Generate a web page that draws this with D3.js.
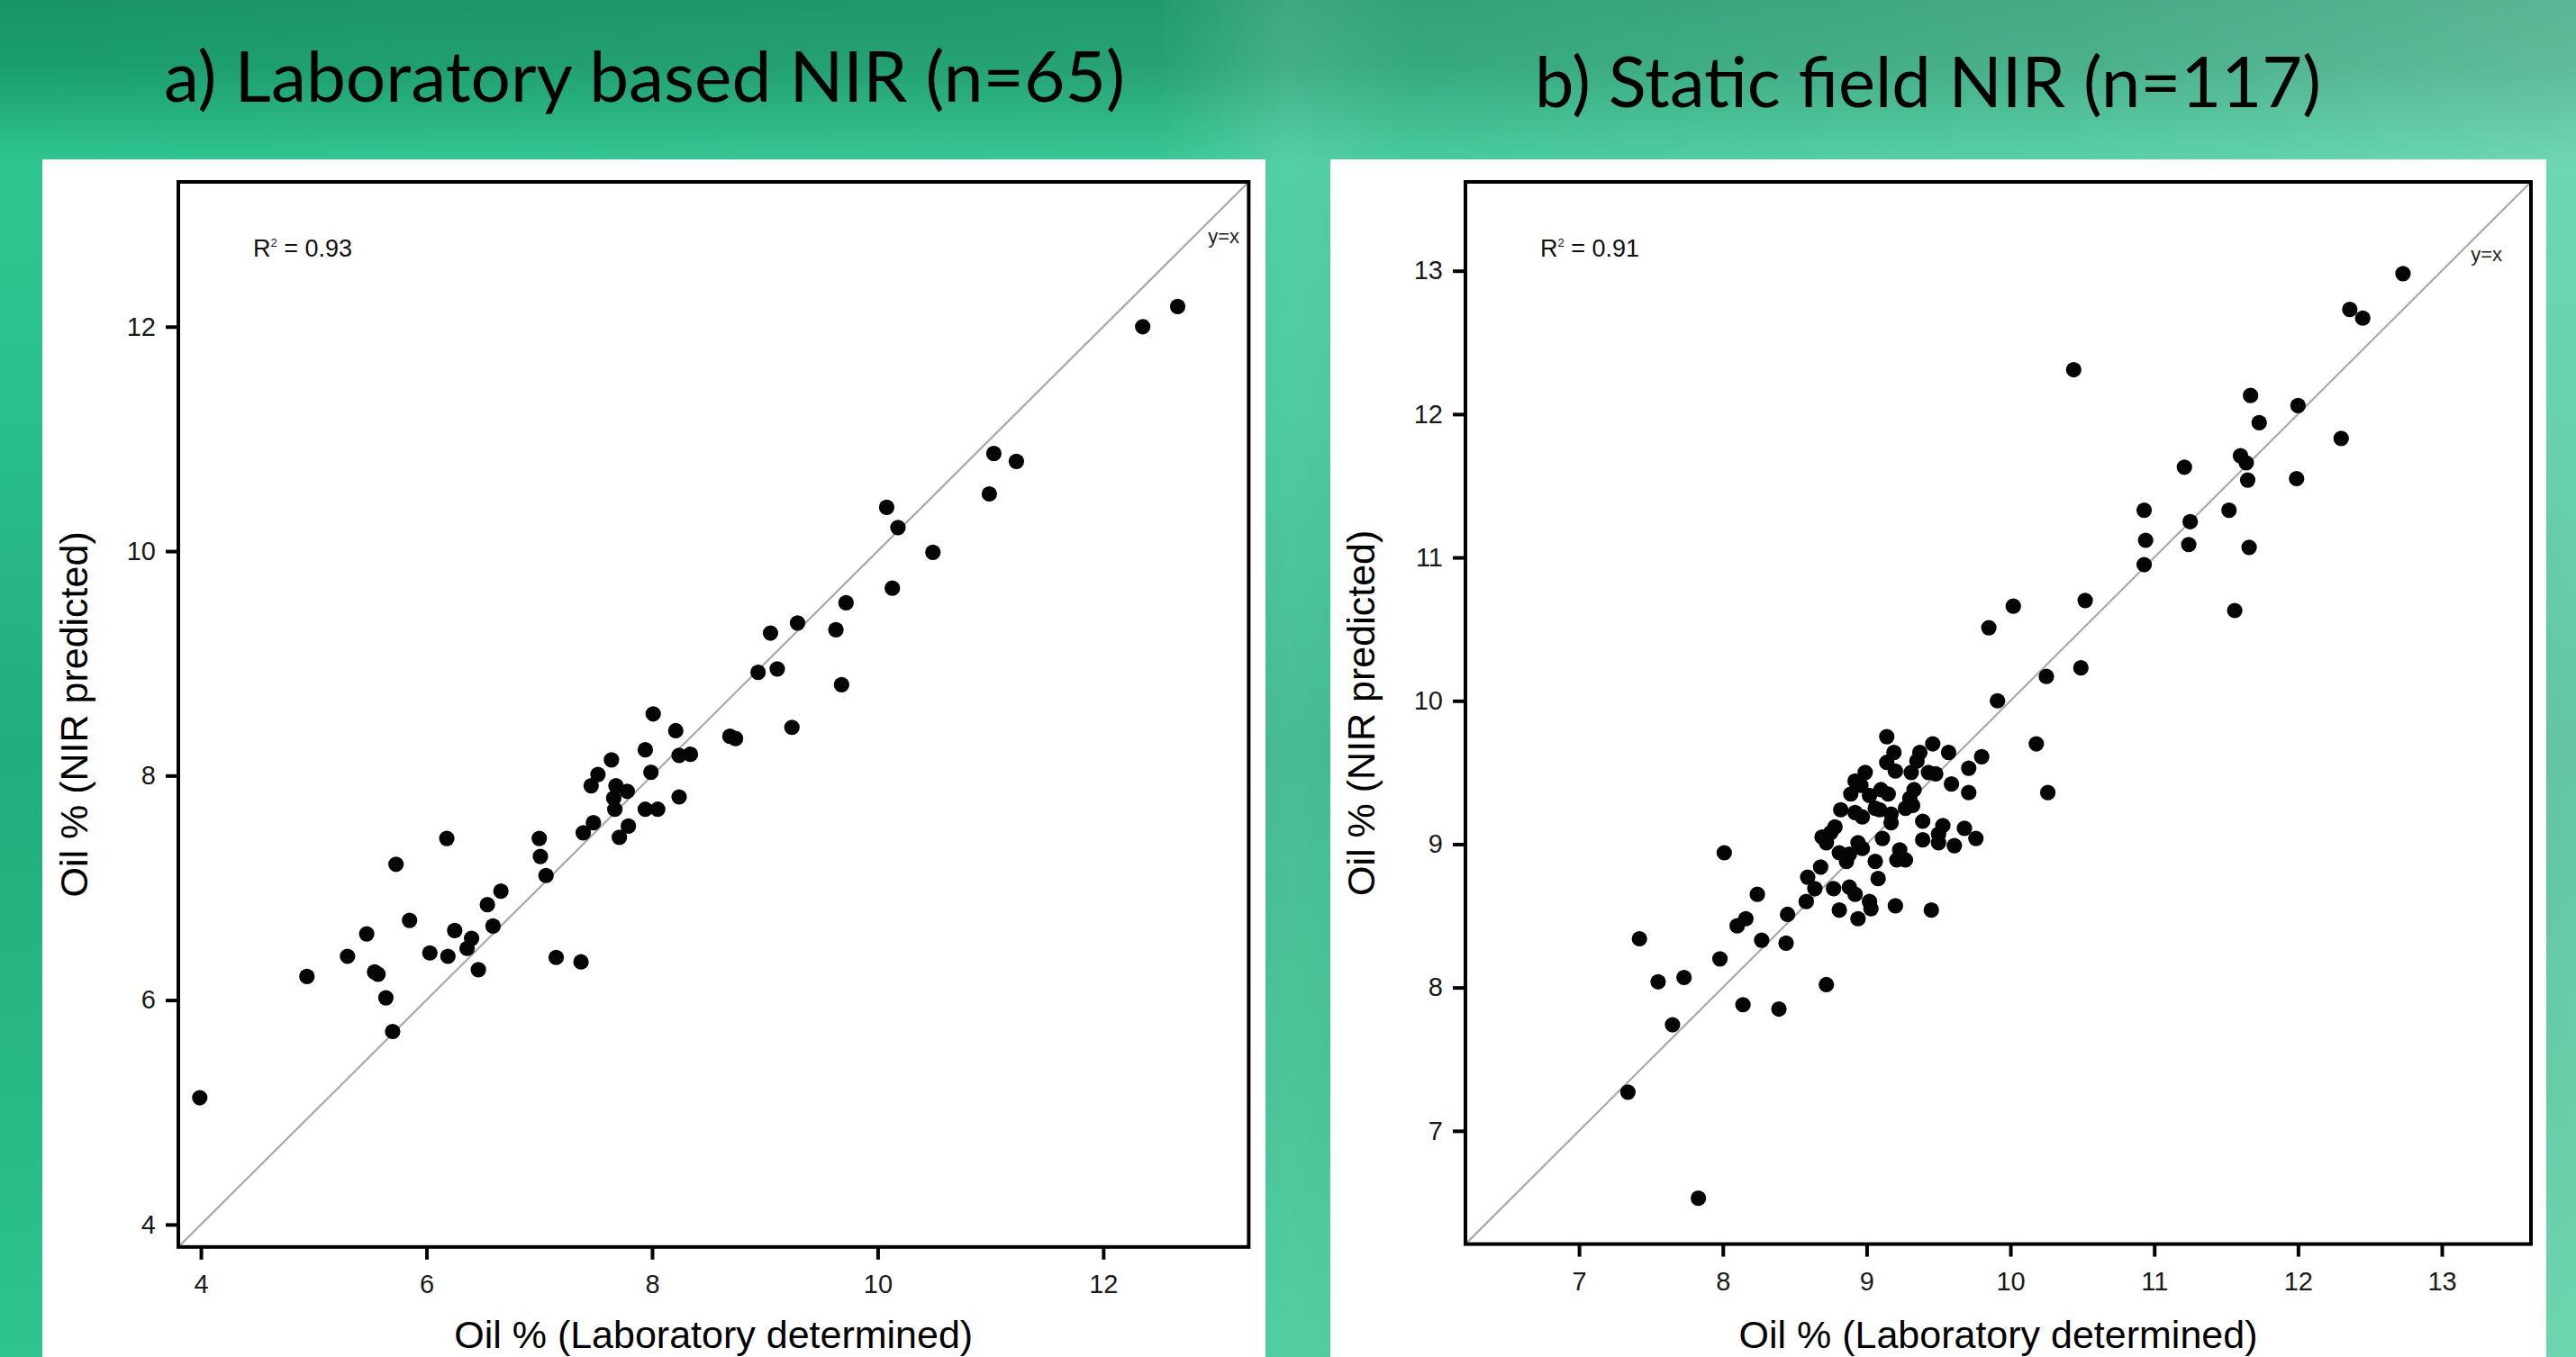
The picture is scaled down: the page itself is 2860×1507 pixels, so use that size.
<!DOCTYPE html>
<html>
<head>
<meta charset="utf-8">
<script src="https://cdn.jsdelivr.net/npm/d3@7"></script>
<style>
  html, body { margin: 0; padding: 0; background: #2bbf8a; }
  svg { display: block; }
</style>
</head>
<body>
<svg id="chart" width="2860" height="1507"></svg>
<script>
// ---------------- DATA ----------------
const titles = ["a) Laboratory based NIR (n=65)", "b) Static field NIR (n=117)"];
const r2Labels = ["0.93", "0.91"];
const xAxisTitle = "Oil % (Laboratory determined)";
const yAxisTitle = "Oil % (NIR predicted)";
const lineLabel = "y=x";

const ticksA = [4, 6, 8, 10, 12];
const ticksB = [7, 8, 9, 10, 11, 12, 13];
const domainA = [3.80, 13.29];
const domainB = [6.21, 13.62];

// Panel a: laboratory determined (x) and NIR predicted (y)
const labA = [12.66,12.35,11.03,11.23,10.99,10.08,10.18,10.49,10.13,9.72,9.29,9.05,9.63,8.94,9.11,9.68,8.01,8.21,9.24,8.69,8.74,7.94,8.24,8.34,7.99,
  7.94,8.05,8.24,
  7.64,7.46,7.52,7.68,7.78,7.66,7.67,7.79,7.71,7.48,7.39,7.00,7.01,7.06,6.66,6.54,6.59,6.40,6.36,6.46,6.25,6.19,6.03,6.18,5.73,5.85,5.47,5.30,5.54,5.57,5.64,5.70,4.94,3.99,7.15,7.37];
const nirA = [12.18,12.00,10.87,10.80,10.51,10.39,10.21,9.99,9.67,9.54,9.36,9.27,9.30,8.92,8.95,8.81,8.55,8.40,8.43,8.35,8.33,8.23,8.18,8.19,8.03,
  7.70,7.70,7.81,
  8.14,7.91,8.01,7.91,7.86,7.80,7.70,7.55,7.45,7.58,7.49,7.44,7.28,7.11,6.97,6.85,6.66,6.55,6.46,6.27,6.62,6.39,6.42,7.44,7.21,6.71,6.59,6.39,6.25,6.23,6.02,5.72,6.21,5.13,6.38,6.34];

// Panel b
const labB = [8.01,7.42,7.55,7.73,7.65,7.34,7.83,7.98,8.14,8.39,8.72,8.10,8.16,8.24,8.27,8.44,8.45,
  12.73,12.36,12.45,10.44,11.67,12.00,11.73,12.30,11.60,11.64,11.21,11.65,11.99,10.93,11.52,11.25,10.94,11.24,11.66,10.93,11.56,10.52,10.02,9.85,10.25,10.49,9.91,10.18,10.26,
  9.14,9.46,9.19,9.37,9.57,9.80,9.14,9.35,9.20,9.31,9.43,9.48,9.71,
  8.99,8.92,8.96,9.59,9.71,9.33,8.89,9.02,9.10,9.15,9.30,9.32,9.27,
  8.82,8.92,8.97,9.06,9.09,9.17,9.17,8.78,8.75,8.69,8.72,
  9.39,9.53,9.68,9.76,9.39,9.50,9.50,9.61,9.11,
  8.81,8.88,8.94,8.97,8.86,9.06,9.23,9.21,9.27,
  8.68,9.08,8.59,8.64,8.77,8.88,8.92,8.58,9.02,9.03,8.81,8.94,9.20,9.45];
const nirB = [8.94,8.34,8.04,8.07,7.74,7.27,6.53,8.20,7.88,7.85,8.02,8.43,8.48,8.65,8.33,8.31,8.51,
  12.98,12.73,12.67,12.31,12.13,12.06,11.94,11.83,11.71,11.66,11.63,11.54,11.55,11.33,11.33,11.25,11.12,11.09,11.07,10.95,10.63,10.70,10.66,10.51,10.17,10.23,10.00,9.70,9.36,
  9.75,9.70,9.64,9.64,9.64,9.61,9.57,9.58,9.51,9.50,9.50,9.49,9.53,
  9.50,9.44,9.41,9.42,9.36,9.38,9.35,9.34,9.38,9.35,9.32,9.27,9.25,
  9.24,9.22,9.19,9.25,9.24,9.21,9.15,9.12,9.08,9.05,9.01,
  9.16,9.13,9.11,9.04,9.03,9.07,9.01,8.99,9.04,
  8.94,8.93,9.01,8.97,8.88,8.88,8.96,8.89,8.89,
  8.84,8.76,8.77,8.69,8.69,8.70,8.65,8.60,8.60,8.55,8.54,8.48,8.57,8.54];

// ---------------- DRAWING ----------------
const svg = d3.select("#chart");
const W = 2860, H = 1507;
const defs = svg.append("defs");

// Background gradients
const gv = defs.append("linearGradient").attr("id", "bgV").attr("x1", 0).attr("y1", 0).attr("x2", 0).attr("y2", 1);
[[0, "#179566"], [0.05, "#1c9e6e"], [0.12, "#2fc690"], [0.3, "#2ac08b"], [0.55, "#22ad7c"], [0.8, "#27b983"], [1, "#2fc48d"]]
  .forEach(([o, c]) => gv.append("stop").attr("offset", o).attr("stop-color", c));
const gh = defs.append("linearGradient").attr("id", "bgH").attr("x1", 0).attr("y1", 0).attr("x2", 1).attr("y2", 0);
[[0, "#ffffff", 0.0], [0.45, "#ffffff", 0.05], [0.5, "#ffffff", 0.18], [0.55, "#ffffff", 0.12], [0.8, "#ffffff", 0.2], [1, "#ffffff", 0.3]]
  .forEach(([o, c, a]) => gh.append("stop").attr("offset", o).attr("stop-color", c).attr("stop-opacity", a));

svg.append("rect").attr("width", W).attr("height", H).attr("fill", "url(#bgV)");
svg.append("rect").attr("width", W).attr("height", H).attr("fill", "url(#bgH)");

const font = "'Liberation Sans', Arial, Helvetica, sans-serif";

const panels = [
  { title: titles[0], titleX: 182, titleW: 1067, titleY: 113, r2: r2Labels[0],
    box: [47, 177, 1405, 1507], plot: [198, 202, 1386.4, 1384.8],
    domain: domainA, ticks: ticksA, lab: labA, nir: nirA,
    lineLabelPos: [1376, 270] },
  { title: titles[1], titleX: 1704, titleW: 873, titleY: 119, r2: r2Labels[1],
    box: [1477, 177, 2827, 1507], plot: [1627, 202, 2810, 1381.6],
    domain: domainB, ticks: ticksB, lab: labB, nir: nirB,
    lineLabelPos: [2778, 290] }
];

panels.forEach(p => {
  // Title
  svg.append("text")
    .attr("x", p.titleX).attr("y", p.titleY)
    .attr("font-family", "Lato, 'Open Sans', sans-serif")
    .attr("font-size", 77)
    .attr("fill", "#000")
    .attr("textLength", p.titleW)
    .attr("lengthAdjust", "spacingAndGlyphs")
    .text(p.title);

  // White panel
  svg.append("rect")
    .attr("x", p.box[0]).attr("y", p.box[1])
    .attr("width", p.box[2] - p.box[0]).attr("height", p.box[3] - p.box[1])
    .attr("fill", "#ffffff");

  const [L, T, R, B] = p.plot;
  const x = d3.scaleLinear().domain(p.domain).range([L, R]);
  const y = d3.scaleLinear().domain(p.domain).range([B, T]);

  const g = svg.append("g");

  // y = x line
  g.append("line")
    .attr("x1", x(p.domain[0])).attr("y1", y(p.domain[0]))
    .attr("x2", x(p.domain[1])).attr("y2", y(p.domain[1]))
    .attr("stroke", "#a8a8a8").attr("stroke-width", 2.2);

  // Points
  const pts = p.lab.map((v, i) => ({ lab: v, nir: p.nir[i] }));
  g.selectAll("circle.pt").data(pts).enter().append("circle")
    .attr("class", "pt")
    .attr("cx", d => x(d.lab)).attr("cy", d => y(d.nir))
    .attr("r", 8.6)
    .attr("fill", "#050505");

  // Axes
  const xAxis = d3.axisBottom(x).tickValues(p.ticks).tickSize(14).tickSizeOuter(0).tickPadding(17).tickFormat(d3.format("d"));
  const yAxis = d3.axisLeft(y).tickValues(p.ticks).tickSize(14).tickSizeOuter(0).tickPadding(11).tickFormat(d3.format("d"));

  const gx = g.append("g").attr("transform", `translate(0,${B})`).call(xAxis);
  const gy = g.append("g").attr("transform", `translate(${L},0)`).call(yAxis);
  [gx, gy].forEach(ax => {
    ax.select(".domain").remove();
    ax.selectAll(".tick line").attr("stroke", "#000").attr("stroke-width", 4);
    ax.selectAll(".tick text").attr("font-family", font).attr("font-size", 29).attr("fill", "#1a1a1a");
  });

  // Frame
  g.append("rect")
    .attr("x", L).attr("y", T).attr("width", R - L).attr("height", B - T)
    .attr("fill", "none").attr("stroke", "#000").attr("stroke-width", 4);

  // R² label
  const r2 = g.append("text")
    .attr("x", L + 83).attr("y", 285)
    .attr("font-family", font).attr("font-size", 27).attr("fill", "#111");
  r2.append("tspan").text("R");
  r2.append("tspan").attr("font-size", 13).attr("dy", -11).text("2");
  r2.append("tspan").attr("dy", 11).text(" = " + p.r2);

  // y=x label
  g.append("text")
    .attr("x", p.lineLabelPos[0]).attr("y", p.lineLabelPos[1])
    .attr("text-anchor", "end")
    .attr("font-family", font).attr("font-size", 22).attr("fill", "#222")
    .text(lineLabel);

  // Axis titles
  g.append("text")
    .attr("x", (L + R) / 2).attr("y", 1497)
    .attr("text-anchor", "middle")
    .attr("font-family", font).attr("font-size", 43).attr("fill", "#000")
    .text(xAxisTitle);

  g.append("text")
    .attr("transform", `translate(${L - 101},${(T + B) / 2}) rotate(-90)`)
    .attr("text-anchor", "middle")
    .attr("font-family", font).attr("font-size", 43).attr("fill", "#000")
    .text(yAxisTitle);
});
</script>
</body>
</html>
